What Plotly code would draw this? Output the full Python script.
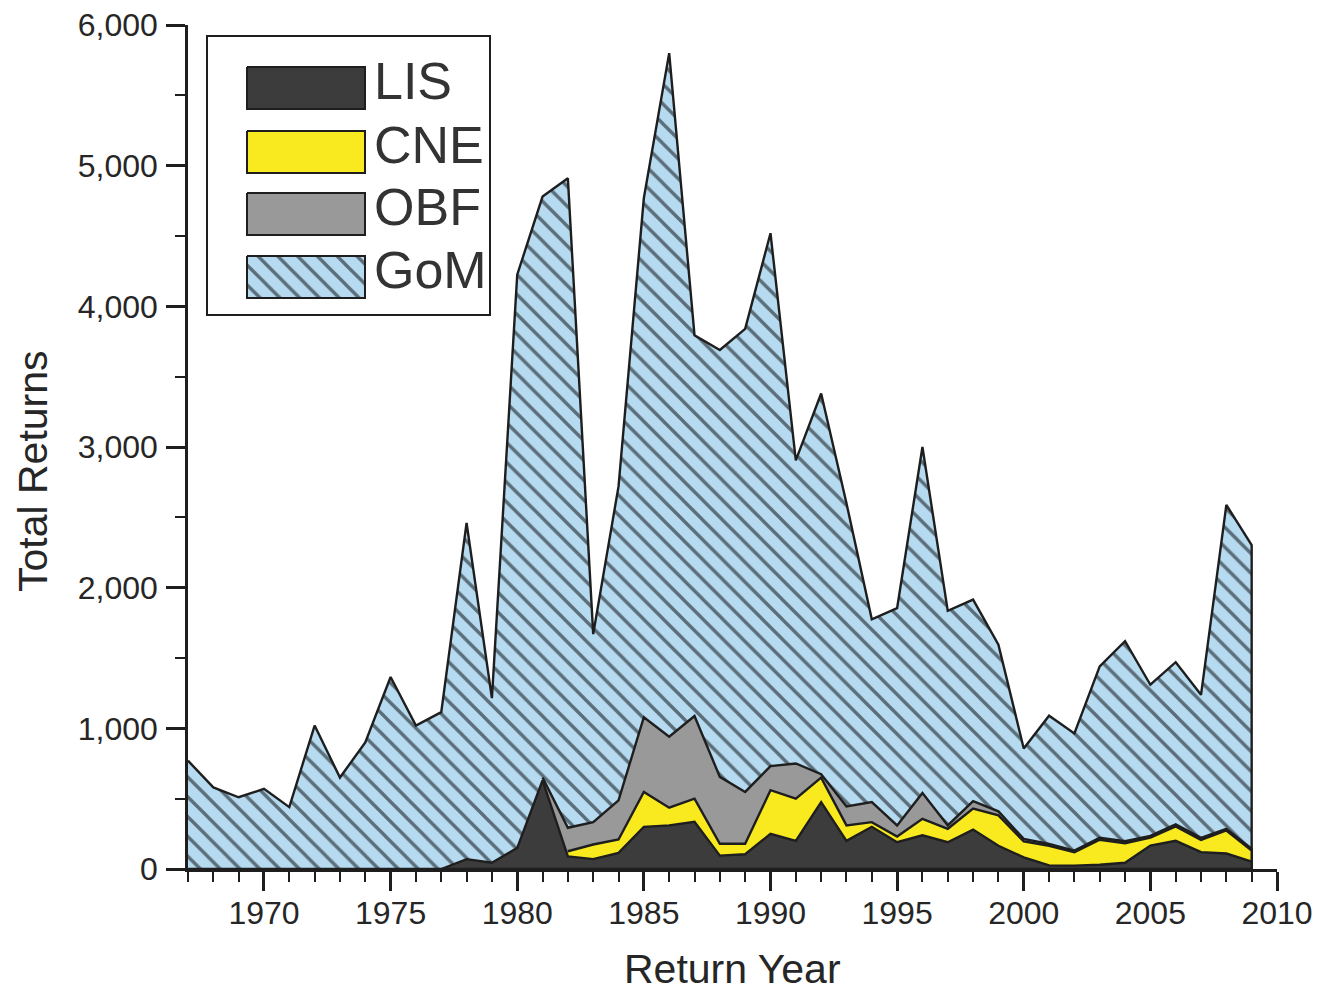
import plotly.graph_objects as go

# ---------------- data ----------------
years = list(range(1967, 2010))

# Returns by region (stacked: LIS bottom, then CNE, OBF, GoM on top)
lis = [None] * 10 + [0, 70, 45, 150, 630, 90, 70, 115, 300, 310,
                     335, 95, 105, 250, 200, 475, 200, 300, 190, 240,
                     190, 280, 165, 83, 26, 24, 30, 44, 167, 200,
                     120, 110, 53]
cne = [None] * 15 + [36, 104, 95, 248, 126, 165, 84, 74, 310, 300,
                     175, 110, 33, 41, 117, 96, 149, 216, 113, 139,
                     95, 178, 139, 57, 103, 87, 164, 78]
obf = [None] * 14 + [20, 167, 159, 278, 531, 504, 588, 476, 369, 171,
                     250, 24, 135, 143, 79, 183, 24, 54, 29, 18,
                     14, 12, 14, 14, 11, 15, 15, 12, 12]
gom = [770, 580, 510, 570, 440, 1020, 650, 900, 1365, 1020,
       1115, 2390, 1170, 4075, 4130, 4617, 1337, 2232, 3691, 4860,
       2707, 3035, 3292, 3789, 2155, 2706, 2155, 1299, 1545, 2460,
       1525, 1432, 1185, 643, 911, 833, 1218, 1423, 1075, 1152,
       1016, 2302, 2159]

series_names = ["LIS", "CNE", "OBF", "GoM"]
x_tick_vals = [1970, 1975, 1980, 1985, 1990, 1995, 2000, 2005, 2010]
x_tick_text = ["1970", "1975", "1980", "1985", "1990", "1995", "2000", "2005", "2010"]
y_tick_vals = [0, 1000, 2000, 3000, 4000, 5000, 6000]
y_tick_text = ["0", "1,000", "2,000", "3,000", "4,000", "5,000", "6,000"]

# ---------------- styles ----------------
FONT = "Liberation Sans, Arial, Helvetica, sans-serif"
TXT = "#262626"
OUT = "#1e1e1e"
col_lis = "#3c3c3c"
col_cne = "#f8ea1e"
col_obf = "#999999"
col_gom = "#b6dbf1"
HATCH = dict(shape="\\", fgcolor="#000000", size=14, solidity=0.24)

# page body has an 8px margin; work in reference-pixel coordinates minus it
O = 8
W, H = 1327 - O, 995 - O
L, R, T, B = 188 - O, 1277 - O, 25 - O, 869 - O
PW, PH = R - L, B - T


def px(x):
    return (x - O - L) / PW


def py(y):
    return (B - (y - O)) / PH


def z(v):
    return 0 if v is None else v


c1 = [z(a) for a in lis]
c2 = [a + z(b) for a, b in zip(c1, cne)]
c3 = [a + z(b) for a, b in zip(c2, obf)]
c4 = [a + b for a, b in zip(c3, gom)]


def poly(src, top):
    idx = [i for i, v in enumerate(src) if v is not None]
    xs = [years[i] for i in idx]
    ys = [top[i] for i in idx]
    return xs + xs[::-1], ys + [0] * len(xs)


fig = go.Figure()

layers = [
    (gom, c4, col_gom, True),
    (obf, c3, col_obf, False),
    (cne, c2, col_cne, False),
    (lis, c1, col_lis, False),
]
for src, top, col, hatched in layers:
    xs, ys = poly(src, top)
    kw = dict(x=xs, y=ys, mode="lines", fill="toself", fillcolor=col,
              line=dict(color=OUT, width=2.4), showlegend=False,
              hoverinfo="skip")
    if hatched:
        kw["fillpattern"] = dict(bgcolor=col, **HATCH)
    fig.add_trace(go.Scatter(**kw))

# ---------------- custom legend (glyphs on an auxiliary axis) ----------------
leg_cols = [col_lis, col_cne, col_obf, col_gom]
leg_tops = [59, 123, 185, 248]
gx0, gx1, gh = 239, 357, 42
for name, col, t in zip(series_names, leg_cols, leg_tops):
    kw = dict(x=[gx0, gx1, gx1, gx0, gx0], y=[t, t, t + gh, t + gh, t],
              xaxis="x2", yaxis="y2", mode="lines", fill="toself",
              fillcolor=col, line=dict(color=OUT, width=2),
              showlegend=False, hoverinfo="skip")
    if name == "GoM":
        kw["fillpattern"] = dict(bgcolor=col, **HATCH)
    fig.add_trace(go.Scatter(**kw))

annotations = []
for name, t in zip(series_names, leg_tops):
    annotations.append(dict(text=name, xref="paper", yref="paper",
                            x=px(372), y=py(t + gh / 2 + 1), xanchor="left",
                            yanchor="middle", showarrow=False,
                            font=dict(family=FONT, size=52, color="#333333")))

annotations.append(dict(text="Return Year", xref="paper", yref="paper",
                        x=px(732), y=py(969), xanchor="center", yanchor="middle",
                        showarrow=False,
                        font=dict(family=FONT, size=41, color=TXT)))
annotations.append(dict(text="Total Returns", xref="paper", yref="paper",
                        x=px(33), y=py(471), xanchor="center", yanchor="middle",
                        textangle=-90, showarrow=False,
                        font=dict(family=FONT, size=41, color=TXT)))

shapes = [dict(type="rect", xref="paper", yref="paper",
               x0=px(207), x1=px(490), y0=py(315), y1=py(36),
               line=dict(color=OUT, width=2), fillcolor="rgba(0,0,0,0)",
               layer="below")]

fig.update_layout(
    width=W, height=H,
    margin=dict(l=L, r=W - R, t=T, b=H - B, autoexpand=False),
    paper_bgcolor="white", plot_bgcolor="white",
    showlegend=False,
    font=dict(family=FONT, color=TXT),
    xaxis=dict(range=[1967, 2010], tickmode="array", tickvals=x_tick_vals,
               ticktext=x_tick_text, ticks="outside", ticklen=19,
               tickwidth=2.5, tickcolor=OUT, showline=True, linewidth=2.5,
               linecolor=OUT, showgrid=False, zeroline=False,
               tickfont=dict(family=FONT, size=32, color=TXT),
               ticklabelstandoff=-5, ticklabeloverflow="allow",
               minor=dict(dtick=1, tick0=1967, ticks="outside", ticklen=10,
                          tickwidth=2.4, tickcolor=OUT, showgrid=False)),
    yaxis=dict(range=[0, 6000], tickmode="array", tickvals=y_tick_vals,
               ticktext=y_tick_text, ticks="outside", ticklen=19,
               tickwidth=2.5, tickcolor=OUT, showline=True, linewidth=2.5,
               linecolor=OUT, showgrid=False, zeroline=False,
               tickfont=dict(family=FONT, size=32, color=TXT),
               ticklabelstandoff=2, ticklabeloverflow="allow",
               minor=dict(dtick=500, tick0=0, ticks="outside", ticklen=10,
                          tickwidth=2.4, tickcolor=OUT, showgrid=False)),
    xaxis2=dict(domain=[px(gx0 - 1 + O), px(gx1 + 1 + O)], range=[gx0 - 1, gx1 + 1],
                anchor="y2", visible=False, fixedrange=True),
    yaxis2=dict(domain=[py(leg_tops[-1] + gh + 1 + O), py(leg_tops[0] - 1 + O)],
                range=[leg_tops[-1] + gh + 1, leg_tops[0] - 1],
                anchor="x2", visible=False, fixedrange=True),
    annotations=annotations,
    shapes=shapes,
)

fig.write_html("out.html")
